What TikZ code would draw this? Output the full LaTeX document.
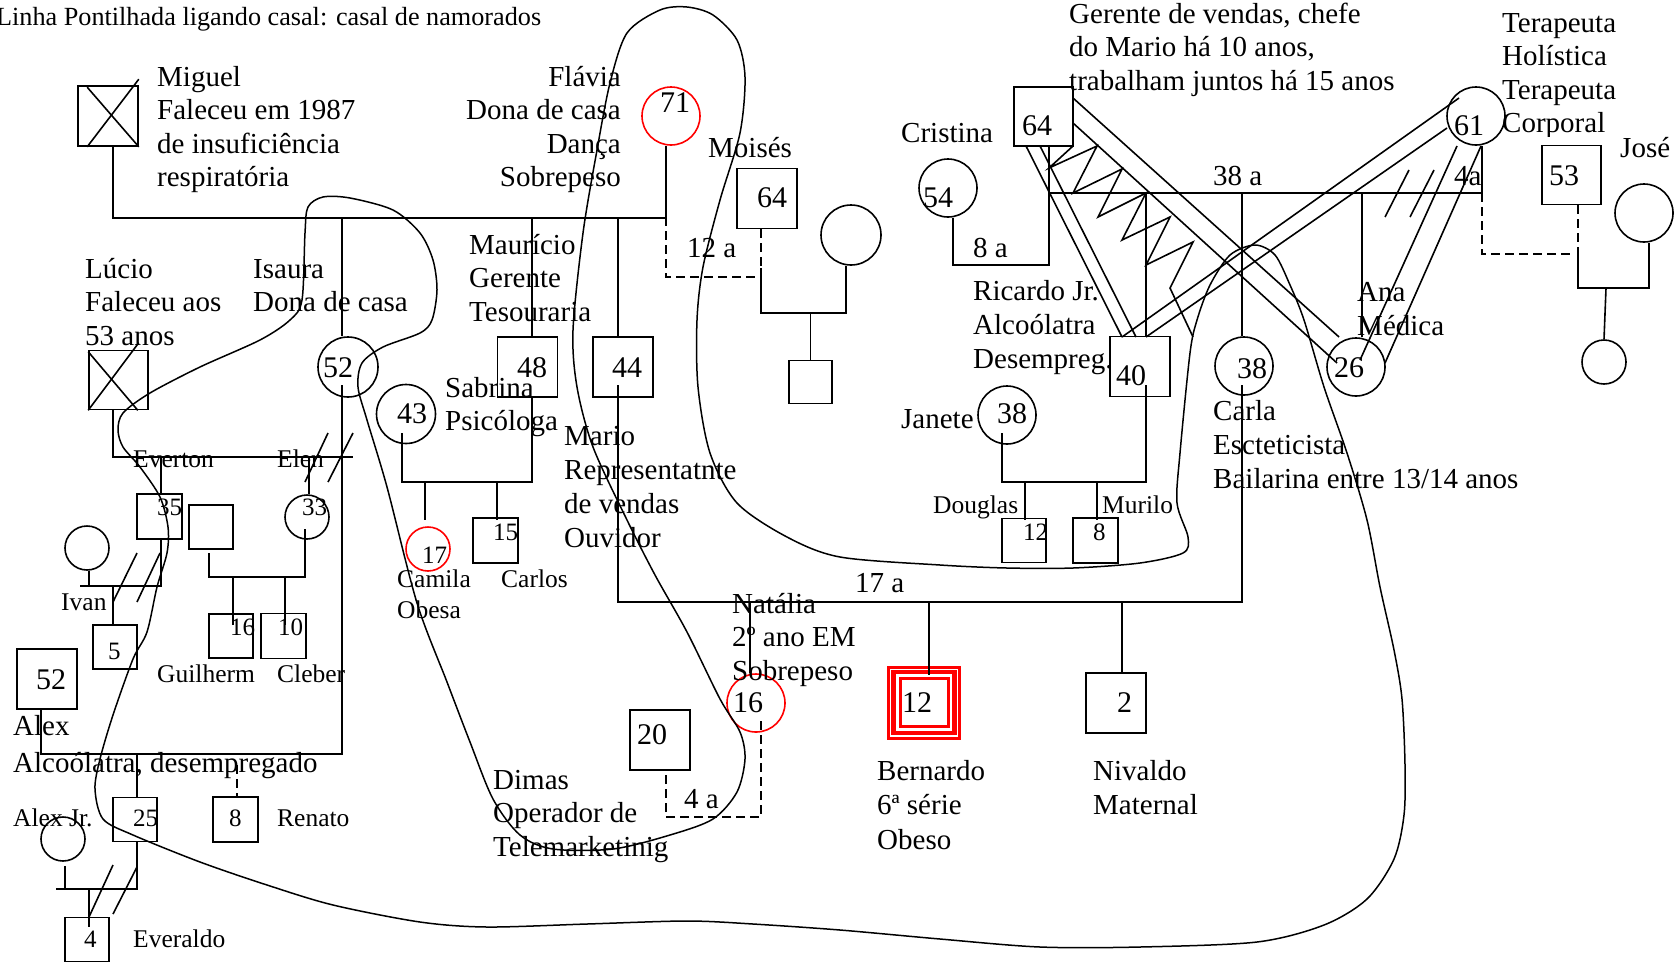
\documentclass[tikz,border=0pt]{standalone}
\usepackage{fontspec}
\setmainfont{Liberation Serif}
\usetikzlibrary{calc}
\newcommand{\mll}[2][33.5]{\vtop{\baselineskip=#1pt\lineskip=0pt\lineskiplimit=-100pt\halign{##\hfil\cr#2\crcr}}}
\newcommand{\mlr}[2][33.5]{\vtop{\baselineskip=#1pt\lineskip=0pt\lineskiplimit=-100pt\halign{\hfil##\cr#2\crcr}}}
\tikzset{
  ln/.style={line width=1.6pt},
  dsh/.style={line width=1.6pt, dash pattern=on 9pt off 5pt},
  mbox/.style={draw, line width=1.6pt, rectangle, minimum width=#1, minimum height=#1, inner sep=0pt},
  fcirc/.style={draw, line width=1.6pt, circle, minimum size=#1, inner sep=0pt},
  bt/.style={font=\fontsize{29}{33.5}\selectfont, inner sep=0pt, anchor=base west},
  bte/.style={font=\fontsize{29}{33.5}\selectfont, inner sep=0pt, anchor=base east},
  st/.style={font=\fontsize{25.5}{31}\selectfont, inner sep=0pt, anchor=base west},
  nb/.style={font=\fontsize{30}{33}\selectfont, inner sep=0pt, anchor=base west},
  ns/.style={font=\fontsize{25}{30}\selectfont, inner sep=0pt, anchor=base west},
}
\begin{document}
\begin{tikzpicture}[x=1pt,y=-1pt]
\useasboundingbox (0,0) rectangle (1677,962);

% ---------- persons ----------
\node[mbox=60] (miguel) at (108,116) {};
\node[mbox=59] (lucio) at (118.5,380) {};
\node[fcirc=58, draw=red] (flavia) at (671,116) {};
\node[fcirc=60] (isaura) at (348,367) {};
\node[mbox=60] (mauricio) at (527.5,367) {};
\node[mbox=60] (mario) at (623,367) {};
\node[fcirc=59] (sabrina) at (406,414) {};
\node[mbox=60] (moises) at (767,198.5) {};
\node[fcirc=60] (moiw) at (851,235) {};
\node[mbox=43] (moic) at (810.5,382) {};
\node[mbox=45] (everton) at (159.5,516.5) {};
\node[fcirc=44] (elen) at (307,517) {};
\node[mbox=44] (elenh) at (211,527) {};
\node[mbox=44] (guilherme) at (231,636) {};
\node[mbox=45] (cleber) at (283.5,636) {};
\node[fcirc=44] (evw) at (87,548) {};
\node[mbox=44] (five) at (115,647) {};
\node[mbox=60] (alex) at (47,679) {};
\node[mbox=44] (alexjr) at (135,819.5) {};
\node[mbox=45] (renato) at (235.5,819.5) {};
\node[fcirc=44] (ajw) at (63,839) {};
\node[mbox=44] (everaldo) at (87,939.5) {};
\node[fcirc=44, draw=red] (camila) at (428,549) {};
\node[mbox=45] (carlos) at (495.5,540.5) {};
\node[fcirc=58, draw=red] (natalia) at (756,703) {};
\node[mbox=60] (dimas) at (660,740) {};
\node[draw=red, line width=3pt, minimum size=71, inner sep=0pt] (bernardo) at (924,702.5) {};
\draw[red, line width=4.5pt] ($(bernardo.south west)+(6.5,-6.5)$) rectangle ($(bernardo.north east)+(-6.5,6.5)$);
\draw[red, line width=3pt] ($(bernardo.south west)+(13,-13)$) rectangle ($(bernardo.north east)+(-13,13)$);
\node[mbox=60] (nivaldo) at (1116,703) {};
\node[mbox=59] (ricardo) at (1043.5,116.5) {};
\node[fcirc=58] (cristina) at (948,188) {};
\node[mbox=60] (ricjr) at (1140,366.5) {};
\node[fcirc=58] (janete) at (1007,415) {};
\node[mbox=44] (douglas) at (1024,540.5) {};
\node[mbox=45] (murilo) at (1095.5,540.5) {};
\node[fcirc=58] (carla) at (1244,366) {};
\node[fcirc=58] (ana) at (1356,367) {};
\node[fcirc=58] (f61) at (1476,116) {};
\node[mbox=59] (jose) at (1571.5,175) {};
\node[fcirc=58] (josew) at (1644,213) {};
\node[fcirc=44] (josec) at (1604,362) {};

% crosses (deceased)
\draw[ln] ($(miguel.north west)+(10,2)$) -- (miguel.south east);
\draw[ln] ($(miguel.south west)+(10,0)$) -- ($(miguel.north east)+(0,-6)$);
\draw[ln] ($(lucio.north west)+(0,2)$) -- ($(lucio.south east)+(-11,0)$);
\draw[ln] (lucio.south west) -- ($(lucio.north east)+(-10,-7)$);

% ---------- numbers ----------
\node[nb] at (660,112) {71};
\node[nb] at (757,207) {64};
\node[nb] at (1022,135) {64};
\node[nb] at (323,377) {52};
\node[nb] at (517,377) {48};
\node[nb] at (612,377) {44};
\node[nb] at (397,423) {43};
\node[nb] at (923,207) {54};
\node[nb] at (1454,135) {61};
\node[nb] at (1549,185) {53};
\node[nb] at (1116,385) {40};
\node[nb] at (997,423) {38};
\node[nb] at (1237,378) {38};
\node[nb] at (1334,377) {26};
\node[nb] at (36,689) {52};
\node[nb] at (733,712) {16};
\node[nb] at (637,744) {20};
\node[nb] at (902,712) {12};
\node[nb] at (1117,712) {2};
\node[ns] at (157,515) {35};
\node[ns] at (302,515) {33};
\node[ns] at (230,635) {16};
\node[ns] at (278,635) {10};
\node[ns] at (422,563) {17};
\node[ns] at (493,540) {15};
\node[ns] at (108,659) {5};
\node[ns] at (133,826) {25};
\node[ns] at (229,826) {8};
\node[ns] at (84,947) {4};
\node[ns] at (1023,540) {12};
\node[ns] at (1093,540) {8};

% ---------- texts ----------
\node[st, font=\fontsize{26.2}{31}\selectfont] (title) at (-4,25) {Linha Pontilhada ligando casal: casal de namorados};
\node[bt] (tmiguel) at (157,86) {\mll{Miguel\cr Faleceu em 1987\cr de insuficiência\cr respiratória}};
\node[bte] (tflavia) at (621,86) {\mlr{Flávia\cr Dona de casa\cr Dança\cr Sobrepeso}};
\node[bt] (tlucio) at (85,278) {\mll{Lúcio\cr Faleceu aos\cr 53 anos}};
\node[bt] (tisaura) at (253,278) {\mll{Isaura\cr Dona de casa}};
\node[bt] (tmauricio) at (469,254) {\mll{Maurício\cr Gerente\cr Tesouraria}};
\node[bt] (tmoises) at (708,157) {Moisés};
\node[bt] (t12a) at (687,257) {12 a};
\node[bt] (tsabrina) at (445,397) {\mll{Sabrina\cr Psicóloga}};
\node[bt] (tmario) at (564,445) {\mll[34.3]{Mario\cr Representatnte\cr de vendas\cr Ouvidor}};
\node[st] (teverton) at (133,467) {Everton};
\node[st] (telen) at (277,467) {Elen};
\node[st] (tivan) at (61,610) {Ivan};
\node[st] (tguil) at (157,682) {Guilherm};
\node[st] (tcleber) at (277,682) {Cleber};
\node[st] (tcamila) at (397,587) {\mll[31]{Camila\cr Obesa}};
\node[st] (tcarlos) at (501,587) {Carlos};
\node[bt] (talex) at (13,735) {\mll[37]{Alex\cr Alcoólatra, desempregado}};
\node[st] (talexjr) at (13,826) {Alex Jr.};
\node[st] (trenato) at (277,826) {Renato};
\node[st] (teveraldo) at (133,947) {Everaldo};
\node[bt] (tnatalia) at (732,613) {\mll{Natália\cr 2º ano EM\cr Sobrepeso}};
\node[bt] (tdimas) at (493,789) {\mll{Dimas\cr Operador de\cr Telemarketinig}};
\node[bt] (t4a) at (684,808) {4 a};
\node[bt] (t17a) at (855,592) {17 a};
\node[bt] (tbern) at (877,780) {\mll[34.5]{Bernardo\cr 6ª série\cr Obeso}};
\node[bt] (tniv) at (1093,780) {\mll[34.5]{Nivaldo\cr Maternal}};
\node[bt] (tjanete) at (901,428) {Janete};
\node[st] (tdouglas) at (933,513) {Douglas};
\node[st] (tmurilo) at (1102,513) {Murilo};
\node[bt] (tricardo) at (973,300) {\mll[34]{Ricardo Jr.\cr Alcoólatra\cr Desempreg.}};
\node[bt] (tcristina) at (901,142) {Cristina};
\node[bt] (t8a) at (973,257) {8 a};
\node[bt] (tgerente) at (1069,23) {\mll{Gerente de vendas, chefe\cr do Mario há 10 anos,\cr trabalham juntos há 15 anos}};
\node[bt] (t38a) at (1213,185) {38 a};
\node[bt] (t4a2) at (1454,185) {4a};
\node[bt] (tcarla) at (1213,420) {\mll[34]{Carla\cr Escteticista\cr Bailarina entre 13/14 anos}};
\node[bt] (tana) at (1357,301) {\mll[34]{Ana\cr Médica}};
\begin{scope}
\clip (1490,-20) rectangle (1677,136);
\node[bt] (tterap) at (1502,32) {\mll{Terapeuta\cr Holística\cr Terapeuta\cr Corporal}};
\end{scope}
\node[bt] (tjose) at (1620,157) {José};

% ---------- family lines ----------
\draw[ln] ($(miguel.south)+(5,0)$) -- ++(0,71) -| ($(flavia.south)+(-5,0)$);
\draw[ln] (342,217) -- ($(isaura.north)+(-6,0)$);
\draw[ln] (342,385) -- (342,754) -| ($(alex.south)+(-6,0)$);
\draw[ln] (532,217) -- ($(mauricio.north)+(4.5,0)$);
\draw[ln] (618,217) -- ($(mario.north)+(-5,0)$);
% Flavia - Moises (namorados)
\draw[dsh] (666,217) -- (666,277) -- (755,277);
\draw[dsh] ($(moises.south)+(-6,0)$) -- (761,268);
\draw[ln] (761,268) -- (761,313) -| ($(moiw.south)+(-5,0)$);
\draw[ln] (810.5,313) -- (moic.north);
% Lucio - Isaura
\draw[ln] ($(lucio.south)+(-5.5,0)$) |- (353,457);
\draw[ln] (328,433) -- (305,482);
\draw[ln] (353,433) -- (328,482);
\draw[ln] (161,457) -- ($(everton.north)+(1.5,0)$);
\draw[ln] (309,457) -- ($(elen.north)+(2,0)$);
% Everton
\draw[ln] ($(everton.south)+(1.5,0)$) |- (80,586);
\draw[ln] ($(evw.south)+(2,0)$) -- (89,586);
\draw[ln] (137,553) -- (113,602);
\draw[ln] (160,553) -- (137,602);
\draw[ln] (113,586) -- ($(five.north)+(-2,0)$);
% Elen
\draw[ln] (209,553) |- (305,577) -- (305,529);
\draw[ln] (233,577) -- (233,625);
\draw[ln] (285,577) -- (285,625);
% Alex - Isaura
\draw[ln] (137,754) -- ($(alexjr.north)+(2,0)$);
\draw[dsh] (237,765) -- ($(renato.north)+(1.5,0)$);
\draw[ln] ($(alexjr.south)+(2,0)$) |- (56,889);
\draw[ln] ($(ajw.south)+(2,4)$) -- (65,889);
\draw[ln] (113,865) -- (89,917);
\draw[ln] (137,867) -- (113,914);
\draw[ln] (89,889) -- (89,927);
% Sabrina - Mauricio
\draw[ln] ($(mauricio.south)+(4.5,0)$) |- (402,482) -- (402,433);
\draw[ln] (425,482) -- (425,520);
\draw[ln] (497,482) -- (497,520);
% Mario - Carla
\draw[ln] (618,385) |- (1242,602) -- (1242,385);
\draw[ln] (1242,193) -- ($(carla.north)+(-2,0)$);
\draw[ln] (750,602) -- ($(natalia.north)+(-6,0)$);
\draw[ln] (929,602) -- (929,675);
\draw[ln] (1122,602) -- ($(nivaldo.north)+(6,0)$);
% Natalia - Dimas
\draw[dsh] (761,721) |- (666,817) -- ($(dimas.south)+(6,0)$);
% Ricardo Jr - Janete
\draw[ln] (1146,385) |- (1002,482) -- (1002,433);
\draw[ln] (1025,482) -- (1025,520);
\draw[ln] (1097,482) -- (1097,520);
% Ricardo - Cristina
\draw[ln] ($(ricardo.south)+(5.5,0)$) |- (953,265) -- ($(cristina.south)+(5,0)$);
% Ricardo - 61
\draw[ln] (1049,193) -- (1482,193) -- ($(f61.south)+(6,0)$);
\draw[ln] (1409,170) -- (1385,217);
\draw[ln] (1434,170) -- (1410,217);
\draw[ln] (1146,193) -- ($(ricjr.north)+(6,0)$);
\draw[ln] (1362,193) -- ($(ana.north)+(6,0)$);
% 61 - Jose
\draw[dsh] (1482,193) -- (1482,254) -- (1570,254);
\draw[dsh] ($(jose.south)+(6.5,0)$) -- (1578,254);
\draw[ln] (1578,254) |- (1649,288) -- ($(josew.south)+(5,0)$);
\draw[ln] (1606,288) -- (josec.north);

% ---------- relationship lines ----------
\draw[ln] (1026,146) -- (1122,337);
\draw[ln] (1040,146) -- (1136,337);
\draw[ln] (1459,98) -- (1122,337);
\draw[ln] (1447,128) -- (1146,337);
\draw[ln] (1073,98) -- (1339,337);
\draw[ln] (1073,123) -- (1337,363);
\draw[ln] (1457,146) -- (1360,360);
\draw[ln] (1481,146) -- (1385,363);
\draw[ln] (1073,146) -- (1049,168) -- (1097,146) -- (1073,193) -- (1122,169) -- (1098,217) -- (1146,193) -- (1122,240) -- (1170,217) -- (1146,265) -- (1193,242) -- (1170,288) -- (1193,337);

% ---------- household boundary ----------
\draw[line width=1.5pt] plot[smooth cycle, tension=0.5] coordinates {
(358,387) (367,420) (387,487) (417,603) (447,682) (470,742) (493,799) (520,835) (553,849) (613,849) (670,835) (713,819) (737,792) (745,759) (740,732) (720,699) (687,632) (655,575) (627,520) (593,447) (577,387) (573,330) (583,233) (597,150) (610,83) (627,33) (660,10) (687,7) (713,15) (737,40) (745,77) (740,133) (720,200) (703,267) (697,320) (698,387) (710,453) (737,503) (787,537) (840,557) (940,565) (1007,568) (1073,568) (1140,563) (1183,553) (1188,537) (1177,503) (1180,453) (1190,353) (1197,320) (1210,285) (1230,255) (1255,245) (1275,255) (1290,285) (1304,320) (1324,387) (1347,453) (1367,520) (1380,587) (1394,650) (1402,699) (1405,765) (1404,815) (1394,859) (1367,899) (1324,925) (1257,942) (1140,947) (1040,947) (940,939) (840,930) (753,924) (687,921) (587,924) (487,927) (420,922) (333,905) (267,885) (200,862) (133,835) (103,819) (95,789) (100,759) (113,715) (133,659) (147,632) (157,587) (167,553) (168,527) (160,497) (140,467) (123,447) (118,430) (123,413) (150,393) (200,367) (260,340) (290,320) (302,300) (305,233) (308,207) (323,197) (350,198) (393,210) (420,233) (433,260) (437,290) (432,320) (420,333) (383,347) (362,363)};
\end{tikzpicture}
\end{document}
